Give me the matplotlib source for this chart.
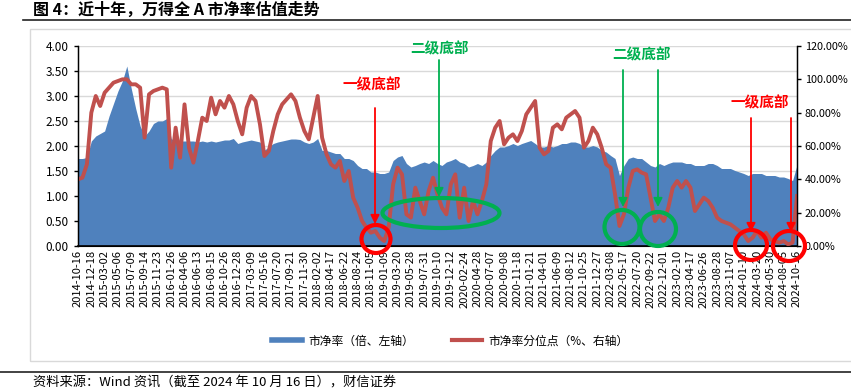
import numpy as np
import matplotlib
matplotlib.use("Agg")
import matplotlib.pyplot as plt
from matplotlib.patches import Ellipse, Rectangle
from matplotlib.lines import Line2D
from matplotlib.ticker import FormatStrFormatter

plt.rcParams['font.family'] = ['Noto Sans CJK SC', 'DejaVu Sans']

#------------DATOS------------------#
# etiquetas del eje x (una cada 3 puntos)
fechas = ["2014-10-16", "2014-12-18", "2015-03-02", "2015-05-06", "2015-07-09", "2015-09-14",
          "2015-11-23", "2016-01-26", "2016-04-06", "2016-06-13", "2016-08-15", "2016-10-26",
          "2016-12-28", "2017-03-09", "2017-05-16", "2017-07-20", "2017-09-21", "2017-11-30",
          "2018-02-02", "2018-04-17", "2018-06-22", "2018-08-24", "2018-11-05", "2019-01-09",
          "2019-03-20", "2019-05-28", "2019-07-31", "2019-10-10", "2019-12-12", "2020-02-24",
          "2020-04-28", "2020-07-07", "2020-09-08", "2020-11-18", "2021-01-21", "2021-04-01",
          "2021-06-09", "2021-08-12", "2021-10-25", "2021-12-27", "2022-03-08", "2022-05-17",
          "2022-07-20", "2022-09-22", "2022-12-01", "2023-02-10", "2023-04-17", "2023-06-26",
          "2023-08-28", "2023-11-07", "2024-01-10", "2024-03-20", "2024-05-30", "2024-08-05",
          "2024-10-16"]

#市净率 (倍, eje izquierdo)
pb = [1.75, 1.75, 1.77, 2.10, 2.20, 2.25, 2.30, 2.60, 2.85, 3.10,
      3.30, 3.60, 3.15, 2.75, 2.40, 2.20, 2.30, 2.45, 2.50, 2.50,
      2.55, 2.15, 2.08, 2.10, 2.10, 2.10, 2.10, 2.08, 2.10, 2.08,
      2.10, 2.08, 2.10, 2.12, 2.12, 2.15, 2.05, 2.08, 2.10, 2.12,
      2.10, 2.08, 1.92, 1.98, 2.05, 2.08, 2.10, 2.12, 2.14, 2.14,
      2.13, 2.08, 2.05, 2.08, 2.15, 1.91, 1.91, 1.88, 1.85, 1.85,
      1.75, 1.75, 1.71, 1.61, 1.55, 1.55, 1.48, 1.48, 1.45, 1.45,
      1.48, 1.71, 1.78, 1.81, 1.65, 1.58, 1.61, 1.65, 1.68, 1.65,
      1.71, 1.65, 1.61, 1.68, 1.71, 1.75, 1.68, 1.65, 1.58, 1.61,
      1.65, 1.61, 1.68, 1.81, 1.91, 1.98, 1.98, 2.01, 2.05, 2.01,
      2.05, 2.08, 2.11, 2.05, 1.98, 1.98, 2.01, 1.98, 2.01, 2.05,
      2.05, 2.08, 2.08, 2.05, 1.98, 1.98, 2.01, 1.98, 1.91, 1.88,
      1.81, 1.75, 1.41, 1.61, 1.75, 1.78, 1.75, 1.75, 1.68, 1.61,
      1.58, 1.65, 1.61, 1.65, 1.68, 1.68, 1.68, 1.65, 1.65, 1.61,
      1.61, 1.61, 1.65, 1.65, 1.61, 1.55, 1.55, 1.55, 1.51, 1.48,
      1.45, 1.41, 1.45, 1.45, 1.45, 1.41, 1.41, 1.41, 1.38, 1.38,
      1.35, 1.31, 1.62]

# 市净率分位点 (%, eje derecho)
pct = [40, 41, 49, 80, 90, 84, 92, 95, 98, 99,
       100, 100, 97, 97, 95, 65, 91, 93, 94, 95,
       94, 47, 71, 53, 85, 59, 50, 63, 77, 75,
       89, 79, 87, 83, 90, 85, 75, 67, 83, 90,
       87, 73, 54, 57, 69, 79, 85, 88, 91, 87,
       77, 69, 64, 77, 90, 65, 55, 49, 47, 51,
       39, 45, 29, 23, 15, 11, 8, 9, 5, 3,
       11, 37, 47, 43, 19, 17, 35, 27, 19, 33,
       41, 31, 23, 19, 37, 43, 17, 35, 15, 27,
       19, 27, 37, 63, 71, 75, 61, 65, 67, 63,
       69, 79, 83, 87, 59, 55, 57, 71, 73, 70,
       77, 79, 81, 77, 59, 63, 71, 67, 59, 49,
       47, 31, 12, 19, 35, 45, 46, 44, 43, 29,
       15, 19, 15, 23, 35, 39, 35, 39, 35, 21,
       25, 29, 27, 23, 17, 15, 14, 13, 11, 9,
       7, 3, 5, 9, 5, 8, 4, 3, 2, 3,
       1, 2, 30]

AZUL = '#4F81BD'
ROJO = '#C0504D'
VERDE = '#00B050'
ROJO_ANOT = '#FF0000'

#------------FIGURA------------------#
W, H = 851, 392
fig = plt.figure(figsize=(W / 100, H / 100), dpi=100)

# marco gris y lineas de cabecera / pie
fig.patches.append(Rectangle((30 / W, 1 - 361 / H), 1, (361 - 29) / H, transform=fig.transFigure,
                             fill=False, edgecolor='#d9d9d9', lw=1))
fig.add_artist(Line2D([23 / W, 1], [1 - 20 / H] * 2, color='#222222', lw=1.2))
fig.add_artist(Line2D([0, 1], [1 - 372 / H] * 2, color='#222222', lw=1.2))

fig.text(33 / W, 1 - 10 / H, "图 4：近十年，万得全 A 市净率估值走势", fontsize=11.5,
         fontweight='bold', va='center', ha='left')
fig.text(33 / W, 1 - 383 / H, "资料来源：Wind 资讯（截至 2024 年 10 月 16 日），财信证券",
         fontsize=9.5, style='italic', va='center', ha='left')

ax = fig.add_axes([78 / W, 1 - 246 / H, (797 - 78) / W, 200 / H])
x = np.arange(len(pb))
ax.fill_between(x, 0, pb, color=AZUL, lw=0)
ax.set_xlim(0, len(pb) - 1)
ax.set_ylim(0, 4)
ax.set_yticks(np.arange(0, 4.01, 0.5))
ax.yaxis.set_major_formatter(FormatStrFormatter('%.2f'))
ax.grid(axis='y', color='#d9d9d9', lw=1)
ax.set_axisbelow(True)
ax.set_xticks(x[::3])
ax.set_xticklabels(fechas, rotation=90, fontsize=8)
ax.tick_params(axis='x', length=0, pad=3)
ax.tick_params(axis='y', labelsize=8.5, length=3, width=1)
ax.spines['top'].set_visible(False)
ax.spines['left'].set_linewidth(1)
ax.spines['bottom'].set_linewidth(1.2)

ax2 = ax.twinx()
ax2.plot(x, pct, color=ROJO, lw=2.8, solid_joinstyle='round')
ax2.set_ylim(0, 120)
ax2.set_yticks(np.arange(0, 121, 20))
ax2.yaxis.set_major_formatter(FormatStrFormatter('%.2f%%'))
ax2.tick_params(axis='y', labelsize=7.8, length=3, width=1, pad=2.5)
ax2.spines['top'].set_visible(False)
ax2.spines['right'].set_linewidth(1)

#------------ANOTACIONES------------------#
def px(xp, yp):
    return ((xp - 78) / 719, (246 - yp) / 200)

def flecha(x0, y0, y1, color):
    ax2.annotate('', xy=px(x0, y1), xytext=px(x0, y0), xycoords='axes fraction',
                 textcoords='axes fraction',
                 arrowprops=dict(arrowstyle='-|>', color=color, lw=1.3, mutation_scale=13,
                                 shrinkA=0, shrinkB=0))

def circulo(xc, yc, w, h, color):
    cx, cy = px(xc, yc)
    e = Ellipse((cx, cy), w / 719, h / 200, transform=ax2.transAxes, fill=False,
                edgecolor=color, lw=3, clip_on=False, zorder=10)
    ax2.add_patch(e)

def texto(xc, yc, s, color):
    ax2.text(*px(xc, yc), s, transform=ax2.transAxes, color=color, fontsize=10.5,
             fontweight='bold', ha='center', va='center')

texto(372, 84, "一级底部", ROJO_ANOT)
flecha(375, 108, 224, ROJO_ANOT)
circulo(376, 239, 29, 28, ROJO_ANOT)

texto(440, 48, "二级底部", VERDE)
flecha(439, 60, 197, VERDE)
circulo(441, 213, 117, 30, VERDE)

texto(642, 54, "二级底部", VERDE)
flecha(623, 70, 207, VERDE)
flecha(658, 70, 207, VERDE)
circulo(622, 227, 35, 34, VERDE)
circulo(658, 229, 36, 34, VERDE)

texto(760, 102, "一级底部", ROJO_ANOT)
flecha(751, 118, 232, ROJO_ANOT)
flecha(791, 118, 232, ROJO_ANOT)
circulo(751, 245, 32, 30, ROJO_ANOT)
circulo(789, 246, 32, 30, ROJO_ANOT)

#------------LEYENDA------------------#
handles = [Line2D([], [], color=AZUL, lw=4), Line2D([], [], color=ROJO, lw=3)]
fig.legend(handles, ["市净率（倍、左轴）", "市净率分位点（%、右轴）"], loc='center',
           bbox_to_anchor=(450 / W, 1 - 341 / H), ncol=2, frameon=False, fontsize=8.5,
           handlelength=2.6, columnspacing=3.2, handletextpad=0.5)

plt.savefig("out.png", dpi=100)
